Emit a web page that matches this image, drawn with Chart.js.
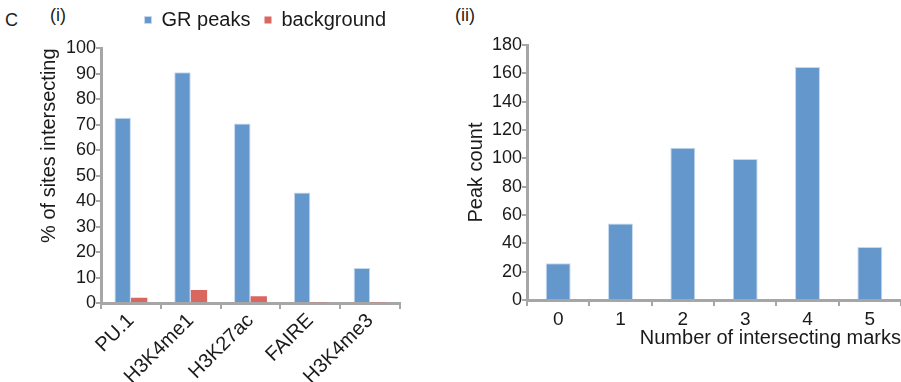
<!DOCTYPE html>
<html>
<head>
<meta charset="utf-8">
<script src="https://cdn.jsdelivr.net/npm/chart.js@4"></script>
<style>
  body { margin: 0; background: #fff; width: 901px; height: 382px; position: relative; overflow: hidden; }
  .lbl { position: absolute; font-family: "Liberation Sans", Arial, sans-serif; font-size: 18px; color: #222; }
  #leftWrap { position: absolute; left: 0; top: 0; width: 450px; height: 382px; }
  #rightWrap { position: absolute; left: 450px; top: 0; width: 451px; height: 382px; }
</style>
</head>
<body>
<div class="lbl" style="left:5px;top:10px;">C</div>
<div class="lbl" style="left:50px;top:5px;">(i)</div>
<div class="lbl" style="left:455px;top:5px;">(ii)</div>
<div id="leftWrap"><canvas id="marksBarChart"></canvas></div>
<div id="rightWrap"><canvas id="countBarChart"></canvas></div>
<script>
const markLabels = ["PU.1", "H3K4me1", "H3K27ac", "FAIRE", "H3K4me3"];
const grPeaks = [72.8, 90.6, 70.5, 43.4, 13.7];
const background = [2.1, 5.1, 2.7, 0.3, 0.3];

const countLabels = ["0", "1", "2", "3", "4", "5"];
const peakCounts = [26, 54, 107.5, 99.5, 164.5, 37.5];

document.addEventListener("DOMContentLoaded", () => {
  Chart.defaults.font.family = '"Liberation Sans", Arial, sans-serif';
  Chart.defaults.font.size = 18;
  Chart.defaults.color = "#1a1a1a";

  const axisGray = "#a6a6a6";

  //
  const marksBarChart = document.getElementById("marksBarChart").getContext("2d");
  new Chart(marksBarChart, {
    type: "bar",
    data: {
      labels: markLabels,
      datasets: [
        {
          label: "GR peaks",
          data: grPeaks,
          backgroundColor: "#6497cc",
          borderColor: "#c6d8ee",
          borderWidth: 1,
        },
        {
          label: "background",
          data: background,
          backgroundColor: "#d9675f",
          borderWidth: 0,
        },
      ],
    },
    options: {
      responsive: true,
      maintainAspectRatio: false,
      animation: false,
      categoryPercentage: 0.55,
      barPercentage: 1,
      layout: { padding: { left: 0, right: 50, top: -4, bottom: 0 } },
      plugins: {
        legend: {
          position: "top",
          align: "end",
          fullSize: false,
          weight: 3000,
          labels: { boxWidth: 7, boxHeight: 7, padding: 14, font: { size: 20 } },
        },
        // empty title only as a spacer between legend and plot
        title: { display: true, text: "", font: { size: 7 }, padding: 0 },
        tooltip: { enabled: false },
      },
      scales: {
        x: {
          grid: { drawOnChartArea: false, color: axisGray, tickLength: 6, lineWidth: 2 },
          border: { color: axisGray, width: 3 },
          ticks: { autoSkip: false, minRotation: 45, maxRotation: 45, padding: 0, font: { size: 20 } },
          afterFit: (s) => { s.height = 79; },
        },
        y: {
          min: 0,
          max: 100,
          grid: { drawOnChartArea: false, color: axisGray, tickLength: 5, lineWidth: 2 },
          border: { color: axisGray, width: 3 },
          ticks: { stepSize: 10, padding: 0 },
          title: {
            display: true,
            text: "% of sites intersecting",
            align: "end",
            font: { size: 20 },
            padding: { top: 37, bottom: 0 },
          },
          afterFit: (s) => { s.width = 101; },
        },
      },
    },
  });

  //
  const countBarChart = document.getElementById("countBarChart").getContext("2d");
  new Chart(countBarChart, {
    type: "bar",
    data: {
      labels: countLabels,
      datasets: [
        {
          label: "Peak count",
          data: peakCounts,
          backgroundColor: "#6497cc",
          borderColor: "#c6d8ee",
          borderWidth: 1,
        },
      ],
    },
    options: {
      responsive: true,
      maintainAspectRatio: false,
      animation: false,
      categoryPercentage: 0.4,
      barPercentage: 1,
      layout: { padding: { left: 0, right: 0, top: 45, bottom: 32 } },
      plugins: {
        legend: { display: false },
        tooltip: { enabled: false },
      },
      scales: {
        x: {
          grid: { drawOnChartArea: false, color: axisGray, tickLength: 6, lineWidth: 2 },
          border: { color: axisGray, width: 3 },
          ticks: { padding: 2, font: { size: 19 } },
          title: {
            display: true,
            text: "Number of intersecting marks",
            align: "end",
            font: { size: 20 },
            padding: { top: 0, bottom: 0 },
          },
          afterFit: (s) => { s.height = 50; },
        },
        y: {
          min: 0,
          max: 180,
          grid: { drawOnChartArea: false, color: axisGray, tickLength: 5, lineWidth: 2 },
          border: { color: axisGray, width: 3 },
          ticks: { stepSize: 20, padding: 0 },
          title: {
            display: true,
            text: "Peak count",
            font: { size: 20 },
            padding: { top: 14, bottom: 0 },
          },
          afterFit: (s) => { s.width = 77; },
        },
      },
    },
  });
});
</script>
</body>
</html>
